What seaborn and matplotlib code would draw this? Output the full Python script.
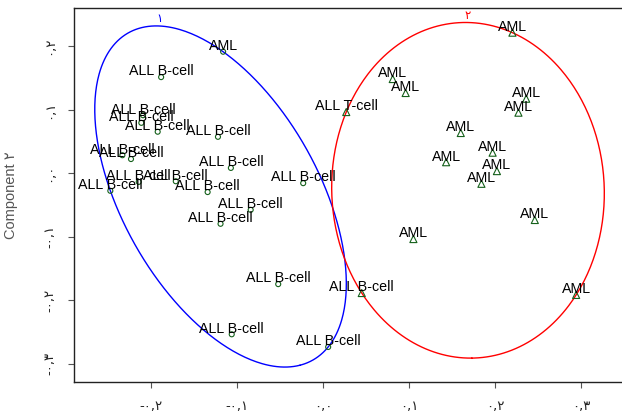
import numpy as np
import pandas as pd
import matplotlib
matplotlib.use("Agg")
import matplotlib.pyplot as plt
import seaborn as sns

# ---- data ----
comp1 = [-0.116, -0.188, -0.209, -0.211, -0.192, -0.122, -0.233, -0.223, -0.107,
         -0.023, -0.247, -0.214, -0.171, -0.134, -0.084, -0.119, -0.052, -0.106, 0.006,
         0.220, 0.081, 0.096, 0.027, 0.236, 0.227, 0.160, 0.143, 0.197, 0.202,
         0.184, 0.246, 0.105, 0.045, 0.294]
comp2 = [0.191, 0.151, 0.091, 0.079, 0.065, 0.057, 0.028, 0.022, 0.008,
         -0.016, -0.028, -0.014, -0.013, -0.030, -0.058, -0.080, -0.175, -0.254, -0.274,
         0.221, 0.148, 0.126, 0.096, 0.117, 0.095, 0.063, 0.017, 0.032, 0.003,
         -0.017, -0.074, -0.104, -0.189, -0.192]
sample_labels = ["AML"] + ["ALL B-cell"] * 18 + \
    ["AML", "AML", "AML", "ALL T-cell", "AML", "AML", "AML", "AML", "AML", "AML",
     "AML", "AML", "AML", "ALL B-cell", "AML"]
cluster = [1] * 19 + [2] * 15
cluster_names = {1: "\u06f1", 2: "\u06f2"}
cluster_colors = {1: "#0000FF", 2: "#FF0000"}

x_ticks = [-0.2, -0.1, 0.0, 0.1, 0.2, 0.3]
x_tick_labels = ["-\u06f0,\u06f2", "-\u06f0,\u06f1", "\u06f0,\u06f0",
                 "\u06f0,\u06f1", "\u06f0,\u06f2", "\u06f0,\u06f3"]
y_ticks = [-0.3, -0.2, -0.1, 0.0, 0.1, 0.2]
y_tick_labels = ["-\u06f0,\u06f3", "-\u06f0,\u06f2", "-\u06f0,\u06f1",
                 "\u06f0,\u06f0", "\u06f0,\u06f1", "\u06f0,\u06f2"]
y_label = "Component \u06f2"

df = pd.DataFrame({"c1": comp1, "c2": comp2, "label": sample_labels, "cluster": cluster})

sns.set_style("white")
plt.rcParams["font.family"] = ["Liberation Sans", "DejaVu Sans"]

fig = plt.figure(figsize=(6.22, 4.16), dpi=100)
ax = fig.add_axes([74 / 622, 1 - 382 / 416, (622 - 74) / 622, (382 - 8) / 416])


def mvee(P, tol=1e-9):
    N, d = P.shape
    Q = np.column_stack([P, np.ones(N)]).T
    u = np.ones(N) / N
    err = 1.0
    it = 0
    while err > tol and it < 20000:
        X = Q @ np.diag(u) @ Q.T
        M = np.einsum("ij,ji->i", Q.T @ np.linalg.inv(X), Q)
        j = np.argmax(M)
        step = (M[j] - d - 1) / ((d + 1) * (M[j] - 1))
        new_u = (1 - step) * u
        new_u[j] += step
        err = np.linalg.norm(new_u - u)
        u = new_u
        it += 1
    c = P.T @ u
    A = np.linalg.inv(P.T @ np.diag(u) @ P - np.outer(c, c)) / d
    return c, A


# ellipses (minimum-volume covering ellipse of each cluster)
t = np.linspace(0, 2 * np.pi, 400)
for k in [1, 2]:
    P = df.loc[df.cluster == k, ["c1", "c2"]].to_numpy()
    c, A = mvee(P)
    vals, vecs = np.linalg.eigh(A)
    circ = np.vstack([np.cos(t), np.sin(t)])
    pts = c[:, None] + vecs @ (circ / np.sqrt(vals)[:, None])
    ax.plot(pts[0], pts[1], color=cluster_colors[k], lw=1.0, zorder=2)
    top = np.argmax(pts[1])
    ax.annotate(cluster_names[k], (pts[0][top], pts[1][top]), xytext=(2, 0.5),
                textcoords="offset points", ha="center", va="bottom",
                color=cluster_colors[k], fontsize=8.5, family=["DejaVu Sans"])

# points
sns.scatterplot(data=df, x="c1", y="c2", style="cluster", markers={1: "o", 2: "^"},
                s=[13 if c == 1 else 26 for c in df.cluster],
                facecolor="none", edgecolor="#14601a", linewidth=0.8,
                legend=False, ax=ax, zorder=3)
for _, r in df.iterrows():
    ax.annotate(r.label, (r.c1, r.c2), xytext=(0, 1.2), textcoords="offset points",
                ha="center", va="baseline", fontsize=10.3, color="#000000", zorder=4)

ax.set_xlim((74 - 323) / 861, (622 - 323) / 861)
ax.set_ylim((173 - 382) / 635, (173 - 8) / 635)
ax.set_xticks(x_ticks)
ax.set_xticklabels(x_tick_labels, family=["DejaVu Sans"], fontsize=9.5, color="#222222")
ax.set_yticks(y_ticks)
ax.set_yticklabels(y_tick_labels, family=["DejaVu Sans"], fontsize=9.5, color="#222222",
                   rotation=90, va="center")
ax.tick_params(axis="both", direction="out", length=4, width=0.8, color="#555555",
               bottom=True, left=True)
ax.tick_params(axis="x", pad=9)
ax.tick_params(axis="y", pad=9)
ax.set_xlabel("")
ax.set_ylabel(y_label, fontsize=10.5, color="#555555", labelpad=10)
ax.yaxis.set_label_coords(-(74 - 18) / 548, 0.5)
for side in ["left", "top", "bottom"]:
    ax.spines[side].set_visible(True)
    ax.spines[side].set_color("#222222")
    ax.spines[side].set_linewidth(1.0)
ax.spines["right"].set_visible(False)

fig.savefig("out.png", dpi=100)
